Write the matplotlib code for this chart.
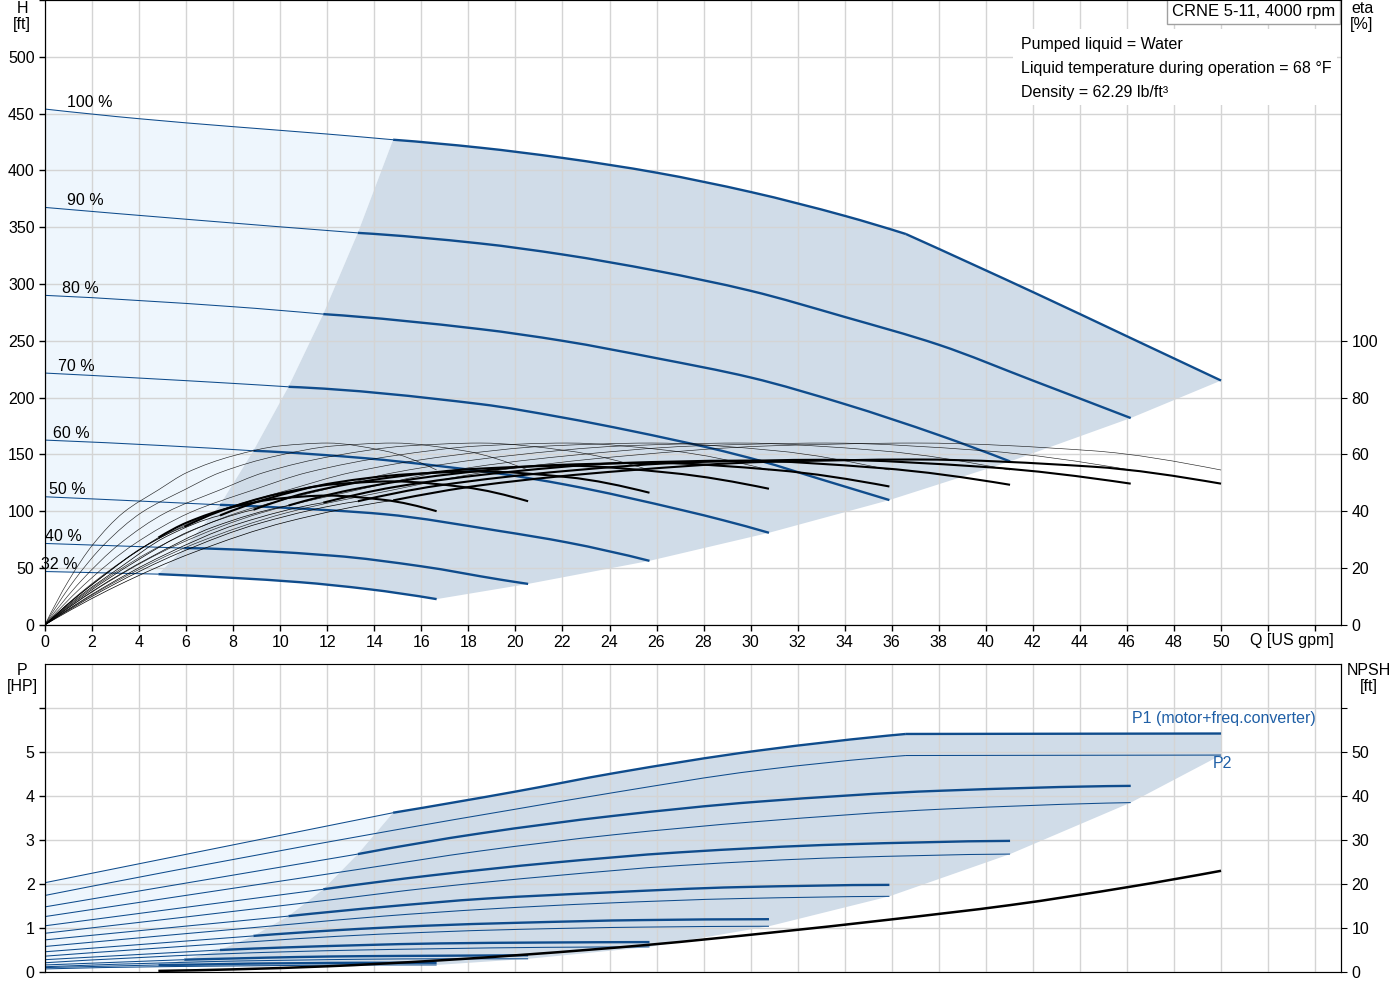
import numpy as np
import matplotlib
matplotlib.use("Agg")
import matplotlib.pyplot as plt
from matplotlib.patches import Polygon, Rectangle, PathPatch
from matplotlib.path import Path

plt.rcParams['font.family'] = ['Liberation Sans', 'DejaVu Sans']

# ---- data ----
SPEEDS = ['100 %', '90 %', '80 %', '70 %', '60 %', '50 %', '40 %', '32 %']
Q_MIN = [14.8, 13.3, 11.83, 10.35, 8.86, 7.44, 5.92, 4.82]
Q_POWER_LIMIT = 36.6  # 100 % curve turns into the power limit line here

HEAD_Q = [
    [0, 4, 8, 12, 14.8, 18.5, 22, 26, 30, 34, 36.6, 42.2, 46.1, 50],
    [0, 6, 13.3, 18.5, 22, 26, 30, 34, 38, 42, 46.16],
    [0, 8, 11.83, 18.5, 22, 26, 30, 34, 38, 41.03],
    [0, 8, 10.35, 18.5, 22, 24.9, 28.4, 30.4, 33, 35.9],
    [0, 5.17, 8.86, 13.7, 15.1, 19.35, 22.1, 27.2, 28.84, 30.78],
    [0, 4.46, 7.44, 12.26, 14.4, 19.35, 22.2, 25.7],
    [0, 5.92, 12.26, 16, 19.35, 20.54],
    [0, 4.82, 8, 10.84, 13.7, 16.65],
]
HEAD_H = [
    [454, 445.5, 438.5, 432, 427, 420, 411, 398, 381, 360, 344, 291, 253, 215],
    [367.4, 357, 345, 335.7, 326, 311.6, 294, 271, 246.5, 215, 182],
    [290, 280, 273.5, 260.3, 250, 234.7, 217.7, 194.3, 167, 143.8],
    [221.6, 212.5, 209.5, 194.3, 182.5, 170.8, 155, 144.4, 128, 109.8],
    [162.6, 157.6, 153.2, 146.5, 143.6, 133, 123.5, 100.4, 92, 81],
    [112.7, 108.5, 105.6, 100.6, 97.4, 82.5, 72.5, 56.3],
    [71.6, 67.5, 60.8, 51.5, 39.8, 36.0],
    [46.9, 44.6, 41.3, 37.5, 31.5, 22.6],
]

ETA_Q = [
    [0, 3.08, 6.32, 10.3, 14.8, 18.6, 24.7, 30.8, 37.0, 44.5, 50.0],
    [0, 2.77, 5.68, 9.23, 13.3, 16.7, 22.2, 27.7, 33.2, 39.9, 46.16],
    [0, 2.46, 5.05, 8.2, 11.83, 14.85, 19.7, 24.6, 29.5, 35.5, 41.03],
    [0, 2.15, 4.42, 7.18, 10.35, 13.0, 17.2, 21.5, 25.8, 31.05, 35.9],
    [0, 1.85, 3.79, 6.16, 8.86, 11.14, 14.8, 18.5, 22.2, 26.6, 30.78],
    [0, 1.54, 3.16, 5.14, 7.44, 9.3, 12.3, 15.4, 18.5, 22.2, 25.7],
    [0, 1.23, 2.53, 4.1, 5.92, 7.44, 9.86, 12.3, 14.8, 17.8, 20.54],
    [0, 1.0, 2.05, 3.33, 4.82, 6.03, 8.0, 10.0, 12.0, 14.4, 16.65],
]
ETA_TOTAL = [
    [0, 13.8, 25.5, 36.3, 43.8, 49.2, 54.3, 57.4, 58.2, 55.7, 49.7],
    [0, 13.5, 25.2, 36, 43.5, 49, 54.2, 57.3, 58.1, 55.6, 49.7],
    [0, 13, 24.5, 35.5, 43, 48.5, 53.8, 57, 57.8, 55.2, 49.3],
    [0, 12.5, 23.5, 34.5, 42, 47.5, 53, 56.2, 57, 54.5, 48.7],
    [0, 11.5, 22, 33, 40.5, 46.5, 52, 55, 56, 53.5, 47.9],
    [0, 10.5, 20, 31, 38.5, 44, 50, 53, 54, 52, 46.5],
    [0, 9, 17.5, 27, 34.5, 40, 46, 49.5, 50.5, 48.5, 43.5],
    [0, 7.5, 14.5, 22.5, 30.7, 36, 41.5, 44.5, 45.5, 44, 40],
]
ETA_HYD = [0, 15.5, 28.4, 39.5, 47.5, 53.6, 59.5, 63, 64, 61.3, 54.5]

P_Q = [
    [0, 14.8, 20, 24.2, 30.3, 36.6, 50],
    [0, 13.3, 18.5, 24.2, 30.3, 38.1, 46.16],
    [0, 11.83, 16.5, 21.5, 27, 33.9, 41.03],
    [0, 10.35, 14.4, 18.8, 23.6, 29.6, 35.9],
    [0, 8.86, 12.4, 16.1, 20.2, 25.4, 30.78],
    [0, 7.44, 10.3, 13.4, 16.8, 21.2, 25.7],
    [0, 5.92, 8.2, 10.7, 13.5, 16.9, 20.54],
    [0, 4.82, 6.6, 8.6, 10.8, 13.5, 16.65],
]
P1 = [
    [2.03, 3.62, 4.1, 4.52, 5.03, 5.41, 5.42],
    [1.48, 2.68, 3.15, 3.55, 3.87, 4.12, 4.23],
    [1.05, 1.88, 2.2, 2.48, 2.72, 2.9, 2.98],
    [0.73, 1.27, 1.48, 1.67, 1.8, 1.93, 1.98],
    [0.46, 0.82, 0.95, 1.05, 1.12, 1.18, 1.2],
    [0.28, 0.5, 0.56, 0.61, 0.65, 0.67, 0.68],
    [0.16, 0.28, 0.31, 0.34, 0.36, 0.37, 0.38],
    [0.1, 0.16, 0.17, 0.19, 0.2, 0.21, 0.21],
]
P2 = [
    [1.74, 3.22, 3.7, 4.08, 4.58, 4.92, 4.93],
    [1.26, 2.33, 2.75, 3.12, 3.42, 3.70, 3.85],
    [0.88, 1.62, 1.92, 2.18, 2.42, 2.6, 2.68],
    [0.58, 1.08, 1.27, 1.43, 1.56, 1.67, 1.72],
    [0.36, 0.69, 0.81, 0.9, 0.97, 1.02, 1.04],
    [0.21, 0.41, 0.46, 0.5, 0.53, 0.56, 0.57],
    [0.12, 0.22, 0.25, 0.27, 0.29, 0.3, 0.3],
    [0.07, 0.12, 0.13, 0.14, 0.15, 0.16, 0.16],
]

NPSH_Q = [4.82, 8, 12, 16.65, 20.54, 25.7, 30.78, 35.9, 41.03, 46.16, 50]
NPSH = [0.25, 0.6, 1.3, 2.6, 4.0, 6.2, 8.9, 11.9, 15.2, 19.4, 23.0]

INFO = ['Pumped liquid = Water',
        'Liquid temperature during operation = 68 \u00b0F',
        'Density = 62.29 lb/ft\u00b3']
TITLE = 'CRNE 5-11, 4000 rpm'

# ---- style ----
BLUE = '#0f4c8c'
TXT_BLUE = '#1f5fa6'
LIGHT = '#eef6fd'
DARK = '#d0dce8'
GRID = '#d4d4d4'
FS = 11.5
XMAX = 55.1


def split_at(q, v, qmin):
    q = np.asarray(q, float)
    v = np.asarray(v, float)
    i = int(np.argmin(np.abs(q - qmin)))
    return (q[:i + 1], v[:i + 1]), (q[i:], v[i:]), i


def slopes(x, y):
    # shape preserving tangents, so the drawn curve goes through every point
    h = np.diff(x)
    d = np.diff(y) / h
    n = len(x)
    if n < 3:
        return np.array([d[0], d[0]])
    m = np.zeros(n)
    for k in range(1, n - 1):
        if d[k - 1] * d[k] > 0:
            w1 = 2 * h[k] + h[k - 1]
            w2 = h[k] + 2 * h[k - 1]
            m[k] = (w1 + w2) / (w1 / d[k - 1] + w2 / d[k])
    m0 = ((2 * h[0] + h[1]) * d[0] - h[0] * d[1]) / (h[0] + h[1])
    if np.sign(m0) != np.sign(d[0]):
        m0 = 0
    elif np.sign(d[0]) != np.sign(d[1]) and abs(m0) > abs(3 * d[0]):
        m0 = 3 * d[0]
    mn = ((2 * h[-1] + h[-2]) * d[-1] - h[-1] * d[-2]) / (h[-1] + h[-2])
    if np.sign(mn) != np.sign(d[-1]):
        mn = 0
    elif np.sign(d[-1]) != np.sign(d[-2]) and abs(mn) > abs(3 * d[-1]):
        mn = 3 * d[-1]
    m[0], m[-1] = m0, mn
    return m


def curve(ax, x, y, kink=None, **kw):
    x = np.asarray(x, float)
    y = np.asarray(y, float)
    if kink is not None and x[0] < kink < x[-1]:
        i = int(np.argmin(np.abs(x - kink)))
        curve(ax, x[:i + 1], y[:i + 1], **kw)
        curve(ax, x[i:], y[i:], **kw)
        return
    m = slopes(x, y)
    verts = [(x[0], y[0])]
    codes = [Path.MOVETO]
    for i in range(len(x) - 1):
        h = x[i + 1] - x[i]
        verts += [(x[i] + h / 3, y[i] + m[i] * h / 3),
                  (x[i + 1] - h / 3, y[i + 1] - m[i + 1] * h / 3),
                  (x[i + 1], y[i + 1])]
        codes += [Path.CURVE4] * 3
    ax.add_patch(PathPatch(Path(verts, codes), fill=False, capstyle='butt',
                           joinstyle='round', **kw))


def envelope(ax, qs, top, bottom, qmins, ends_v):
    # light part (left of min flow line) and operating area
    (lq, lv), (tq, tv), _ = split_at(qs[0], top[0], qmins[0])
    (bq_l, bv_l), (bq_t, bv_t), _ = split_at(qs[-1], bottom, qmins[-1])
    bound = []
    for k in range(len(qs)):
        src = top[k] if k < len(qs) - 1 else bottom
        _, _, i = split_at(qs[k], src, qmins[k])
        bound.append((qs[k][i], src[i]))
    light = list(zip(lq, lv)) + bound[1:] + list(zip(bq_l[::-1], bv_l[::-1]))
    dark = bound[::-1] + list(zip(tq, tv)) + ends_v + list(zip(bq_t[::-1], bv_t[::-1]))
    ax.add_patch(Polygon(light, closed=True, fc=LIGHT, ec='none', zorder=0.5))
    ax.add_patch(Polygon(dark, closed=True, fc=DARK, ec='none', zorder=0.5))


def style_axis(ax):
    ax.set_xlim(0, XMAX)
    ax.set_xticks(np.arange(0, 56, 2))
    ax.grid(True, color=GRID, lw=1)
    ax.tick_params(labelsize=FS, length=4, width=1, color='black', direction='out')
    for s in ('left', 'right'):
        ax.spines[s].set_color('black')
    ax.spines['top'].set_color('#a0a0a0')


fig = plt.figure(figsize=(14, 10), dpi=100)

# ================= head / efficiency =================
ax = fig.add_axes([45 / 1400, 1 - 624.8 / 1000, 1296 / 1400, 624.8 / 1000])
style_axis(ax)
ax.set_ylim(0, 550)
ax.set_yticks(np.arange(0, 551, 50))
ax.set_yticklabels([str(v) if v <= 500 else '' for v in range(0, 551, 50)])
ax.set_xticklabels([str(v) if v <= 50 else '' for v in range(0, 56, 2)])
ax.spines['bottom'].set_color('black')

ends = [(q[-1], h[-1]) for q, h in zip(HEAD_Q[1:], HEAD_H[1:])]
envelope(ax, HEAD_Q, HEAD_H, HEAD_H[-1], Q_MIN, ends)

label_dx = [22, 22, 17, 13, 8, 4, 0, -4]
for k in range(len(SPEEDS)):
    (q1, h1), (q2, h2), _ = split_at(HEAD_Q[k], HEAD_H[k], Q_MIN[k])
    curve(ax, q1, h1, ec=BLUE, lw=0.75, zorder=2)
    curve(ax, q2, h2, kink=Q_POWER_LIMIT if k == 0 else None, ec=BLUE, lw=1.7, zorder=2)
    ax.annotate(SPEEDS[k], (0, HEAD_H[k][0]), xytext=(label_dx[k], 7),
                textcoords='offset pixels', fontsize=FS, ha='left', va='center',
                zorder=4)

ax.add_patch(Rectangle((0.747, 0.832), 0.25, 0.121, transform=ax.transAxes,
                       fc='white', ec='none', zorder=3))
for j, line in enumerate(INFO):
    ax.text(0.753, 0.9295 - j * 0.0385, line, transform=ax.transAxes,
            fontsize=FS, ha='left', va='center', zorder=4)
ax.text(0.9954, 0.981, TITLE, transform=ax.transAxes, fontsize=12,
        ha='right', va='center', zorder=5,
        bbox=dict(boxstyle='square,pad=0.3', fc='white', ec='#a0a0a0', lw=1))
ax.text(53.0, -14.0, 'Q [US gpm]', fontsize=FS, ha='center', va='center',
        clip_on=False)

ax_eta = ax.twinx()
ax_eta.set_ylim(0, 220)
ax_eta.set_yticks(np.arange(0, 101, 20))
ax_eta.tick_params(labelsize=FS, length=4, color='black')
ax_eta.spines['right'].set_color('black')
for k in range(len(SPEEDS)):
    curve(ax_eta, ETA_Q[k], ETA_HYD, ec='black', lw=0.45, alpha=0.85)
    (q1, e1), (q2, e2), _ = split_at(ETA_Q[k], ETA_TOTAL[k], Q_MIN[k])
    curve(ax_eta, q1, e1, ec='black', lw=0.5)
    curve(ax_eta, q2, e2, ec='black', lw=1.5)

# ================= power / NPSH =================
bx = fig.add_axes([45 / 1400, 0.028, 1296 / 1400, 0.308])
style_axis(bx)
bx.set_ylim(0, 7)
bx.set_yticks(np.arange(0, 7))
bx.set_yticklabels(['0', '1', '2', '3', '4', '5', ''])
bx.tick_params(axis='x', length=0, labelbottom=False)
bx.spines['bottom'].set_color('#a0a0a0')

p_ends = [(P_Q[0][-1], P1[0][-1])] + [(q[-1], p[-1]) for q, p in zip(P_Q, P2)]
envelope(bx, P_Q, P1, P2[-1], Q_MIN, p_ends[:-1])

for k in range(len(SPEEDS)):
    kink = Q_POWER_LIMIT if k == 0 else None
    (q1, p1), (q2, p2), _ = split_at(P_Q[k], P1[k], Q_MIN[k])
    curve(bx, q1, p1, ec=BLUE, lw=0.75, zorder=2)
    curve(bx, q2, p2, kink=kink, ec=BLUE, lw=1.7, zorder=2)
    curve(bx, P_Q[k], P2[k], kink=kink, ec=BLUE, lw=0.75, zorder=2)

bx.text(46.2, 5.75, 'P1 (motor+freq.converter)', color=TXT_BLUE, fontsize=FS,
        ha='left', va='center')
bx.text(49.65, 4.73, 'P2', color=TXT_BLUE, fontsize=FS, ha='left', va='center')

bx_n = bx.twinx()
bx_n.set_ylim(0, 70)
bx_n.set_yticks(np.arange(0, 61, 10))
bx_n.set_yticklabels(['0', '10', '20', '30', '40', '50', ''])
bx_n.tick_params(labelsize=FS, length=4, color='black')
bx_n.spines['right'].set_color('black')
curve(bx_n, NPSH_Q, NPSH, ec='black', lw=1.8)

# axis titles
fig.text(22 / 1400, 0.999, 'H\n[ft]', fontsize=FS, ha='center', va='top', linespacing=1.1)
fig.text(1362 / 1400, 0.999, 'eta\n[%]', fontsize=FS, ha='center', va='top', linespacing=1.1)
fig.text(22 / 1400, 0.337, 'P\n[HP]', fontsize=FS, ha='center', va='top', linespacing=1.1)
fig.text(1369 / 1400, 0.337, 'NPSH\n[ft]', fontsize=FS, ha='center', va='top', linespacing=1.1)

fig.savefig('out.png', dpi=100)
